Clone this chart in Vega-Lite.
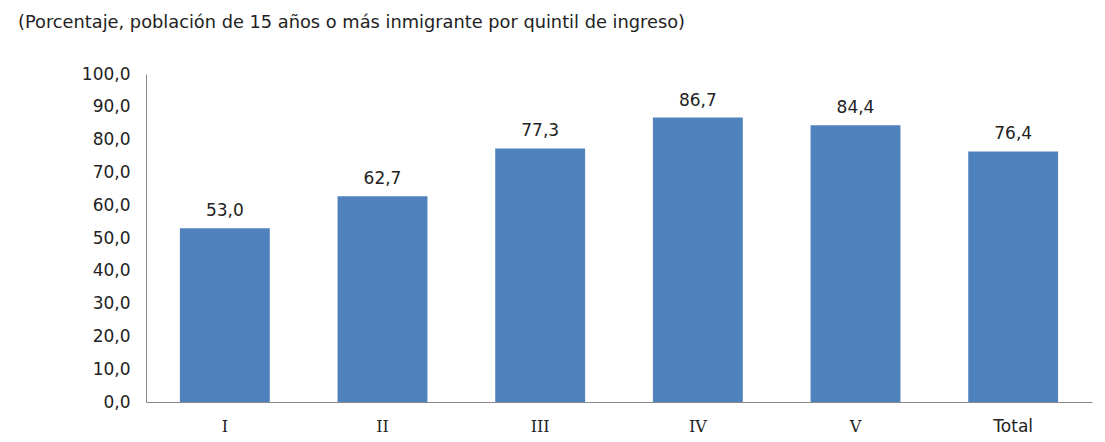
{
  "$schema": "https://vega.github.io/schema/vega-lite/v6.json",
  "autosize": "none",
  "width": 946,
  "height": 328,
  "padding": {"left": 146, "top": 74, "right": 13, "bottom": 40},
  "background": "white",
  "title": {
    "text": "(Porcentaje, población de 15 años o más inmigrante por quintil de ingreso)",
    "anchor": "start",
    "frame": "group",
    "dx": -128,
    "offset": 33,
    "font": "DejaVu Sans",
    "fontSize": 17.8,
    "fontWeight": "normal",
    "color": "#222222"
  },
  "data": {
    "values": [
      {"quintil": "I", "valor": 53.0},
      {"quintil": "II", "valor": 62.7},
      {"quintil": "III", "valor": 77.3},
      {"quintil": "IV", "valor": 86.7},
      {"quintil": "V", "valor": 84.4},
      {"quintil": "Total", "valor": 76.4}
    ]
  },
  "encoding": {
    "x": {
      "field": "quintil",
      "type": "nominal",
      "sort": null,
      "scale": {"paddingInner": 0.43, "paddingOuter": 0.215},
      "axis": {
        "title": null,
        "labelAngle": 0,
        "ticks": false,
        "labelPadding": 16,
        "labelFont": {"condition": {"test": "datum.value === 'Total'", "value": "DejaVu Sans"}, "value": "DejaVu Serif"},
        "labelFontSize": {"condition": {"test": "datum.value === 'Total'", "value": 17}, "value": 16},
        "labelColor": "#222222",
        "domainColor": "#888888",
        "grid": false
      }
    },
    "y": {
      "field": "valor",
      "type": "quantitative",
      "scale": {"domain": [0, 100]},
      "axis": {
        "title": null,
        "values": [0, 10, 20, 30, 40, 50, 60, 70, 80, 90, 100],
        "labelExpr": "replace(format(datum.value, '.1f'), '.', ',')",
        "ticks": false,
        "labelPadding": 16,
        "labelFont": "DejaVu Sans",
        "labelFontSize": 17,
        "labelColor": "#222222",
        "domainColor": "#888888",
        "grid": false
      }
    }
  },
  "layer": [
    {"mark": {"type": "bar", "color": "#4F81BD"}},
    {
      "mark": {"type": "text", "dy": -17, "font": "DejaVu Sans", "fontSize": 17, "color": "#222222"},
      "encoding": {"text": {"field": "label"}}
    }
  ],
  "transform": [
    {"calculate": "replace(format(datum.valor, '.1f'), '.', ',')", "as": "label"}
  ],
  "config": {"view": {"stroke": null}}
}
